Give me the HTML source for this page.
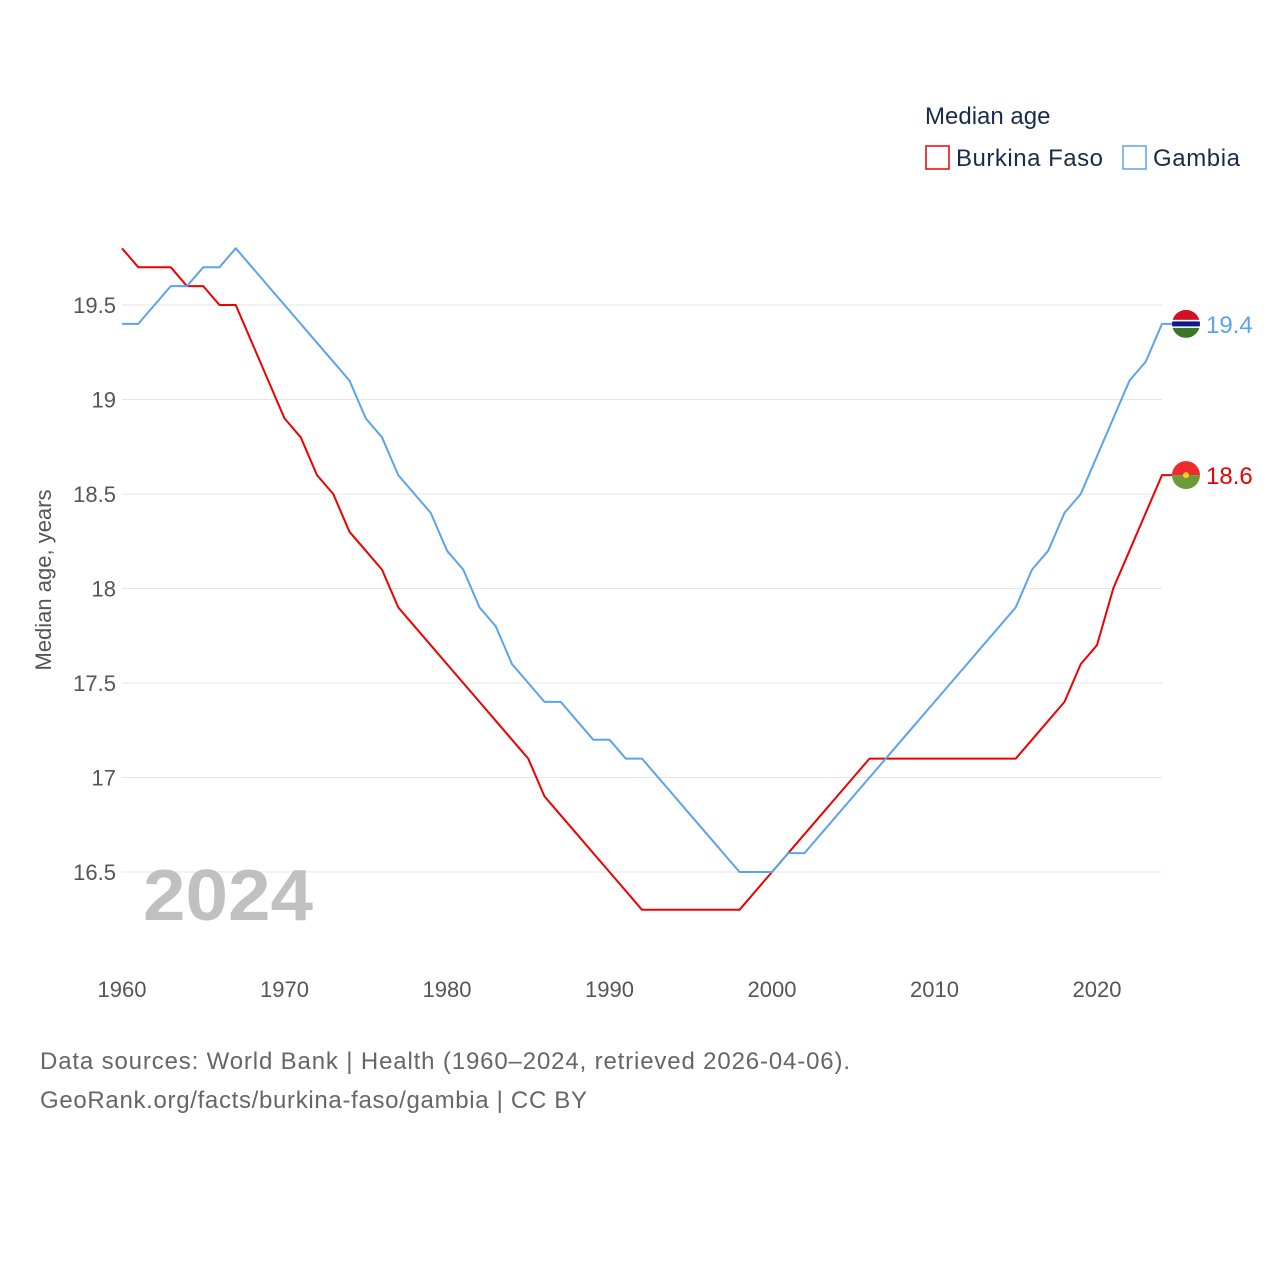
<!DOCTYPE html>
<html><head><meta charset="utf-8"><style>
body{margin:0;background:#fff;font-family:"Liberation Sans",sans-serif;}
svg text{font-family:"Liberation Sans",sans-serif;}
</style></head><body>
<svg id="c" width="1280" height="1280">
<rect width="1280" height="1280" fill="#fff"/>
<g id="grid"></g>
<text x="143" y="920" font-size="72" font-weight="bold" fill="#c0c0c0" textLength="170" lengthAdjust="spacingAndGlyphs">2024</text>
<g id="lines"></g>
<text transform="translate(51,580) rotate(-90)" font-size="22" fill="#555" text-anchor="middle">Median age, years</text>
<text x="925" y="124" font-size="24" fill="#1a2b4a">Median age</text>
<g><rect x="926" y="146" width="23" height="23" fill="none" stroke="#ee0000" stroke-width="1.5"/><text x="956" y="166" font-size="24" fill="#1a2b4a" textLength="147">Burkina Faso</text></g>
<g><rect x="1123" y="146" width="23" height="23" fill="none" stroke="#5ba3ee" stroke-width="1.5"/><text x="1153" y="166" font-size="24" fill="#1a2b4a" textLength="87">Gambia</text></g>
<text x="40" y="1069" font-size="24" fill="#666" textLength="810">Data sources: World Bank | Health (1960–2024, retrieved 2026-04-06).</text>
<text x="40" y="1108" font-size="24" fill="#666" textLength="547">GeoRank.org/facts/burkina-faso/gambia | CC BY</text>
</svg>
<script>
const years=[];for(let y=1960;y<=2024;y++)years.push(y);
const burkina=[19.8,19.7,19.7,19.7,19.6,19.6,19.5,19.5,19.3,19.1,18.9,18.8,18.6,18.5,18.3,18.2,18.1,17.9,17.8,17.7,17.6,17.5,17.4,17.3,17.2,17.1,16.9,16.8,16.7,16.6,16.5,16.4,16.3,16.3,16.3,16.3,16.3,16.3,16.3,16.4,16.5,16.6,16.7,16.8,16.9,17.0,17.1,17.1,17.1,17.1,17.1,17.1,17.1,17.1,17.1,17.1,17.2,17.3,17.4,17.6,17.7,18.0,18.2,18.4,18.6];
const gambia=[19.4,19.4,19.5,19.6,19.6,19.7,19.7,19.8,19.7,19.6,19.5,19.4,19.3,19.2,19.1,18.9,18.8,18.6,18.5,18.4,18.2,18.1,17.9,17.8,17.6,17.5,17.4,17.4,17.3,17.2,17.2,17.1,17.1,17.0,16.9,16.8,16.7,16.6,16.5,16.5,16.5,16.6,16.6,16.7,16.8,16.9,17.0,17.1,17.2,17.3,17.4,17.5,17.6,17.7,17.8,17.9,18.1,18.2,18.4,18.5,18.7,18.9,19.1,19.2,19.4];
const yTicks=[16.5,17,17.5,18,18.5,19,19.5];
const yTickLabels=["16.5","17","17.5","18","18.5","19","19.5"];
const xTicks=[1960,1970,1980,1990,2000,2010,2020];
const NS="http://www.w3.org/2000/svg";
const X=y=>122+(y-1960)*16.25;
const Y=v=>305+(19.5-v)*189;
function mk(tag,attrs,parent){const e=document.createElementNS(NS,tag);for(const k in attrs)e.setAttribute(k,attrs[k]);parent.appendChild(e);return e;}
const grid=document.getElementById('grid');const lines=document.getElementById('lines');
yTicks.forEach((t,i)=>{
 const l=mk('line',{x1:122,x2:1162,y1:Y(t),y2:Y(t),stroke:'#e6e6e6','stroke-width':1},grid);
 
 
 const tx=mk('text',{x:116,y:Y(t)+8,'font-size':22,fill:'#555','text-anchor':'end'},grid);tx.textContent=yTickLabels[i];
 
 
});
xTicks.forEach(t=>{
 const tx=mk('text',{x:X(t),y:997,'font-size':22,fill:'#555','text-anchor':'middle'},grid);tx.textContent=t;
 
 
});
function series(vals,color,name){
 let d=vals.map((v,i)=>(i?'L':'M')+X(years[i])+','+Y(v)).join('');
 d+='L'+(X(2024)+10)+','+Y(vals[vals.length-1]);
 const p=mk('path',{d:d,fill:'none',stroke:color,'stroke-width':2,'stroke-linejoin':'round'},lines);
 
 
}
series(burkina,'#ee0000','burkina-faso');
series(gambia,'#5ba3ee','gambia');
const cx=1186;
const gy=Y(gambia[gambia.length-1]);
const gf=mk('g',{},lines);


const cp=mk('clipPath',{id:'cg'},gf);
mk('circle',{cx:cx,cy:gy,r:14},cp);
const gg=mk('g',{'clip-path':'url(#cg)'},gf);
mk('rect',{x:cx-14,y:gy-14,width:28,height:10,fill:'#ce1126'},gg);
mk('rect',{x:cx-14,y:gy-4,width:28,height:8,fill:'#fff'},gg);
mk('rect',{x:cx-14,y:gy-2.5,width:28,height:5,fill:'#0c1c8c'},gg);
mk('rect',{x:cx-14,y:gy+4,width:28,height:10,fill:'#3a7728'},gg);
const gl=mk('text',{x:1206,y:gy+9,'font-size':24,fill:'#5ba3ee'},lines);gl.textContent=gambia[gambia.length-1].toFixed(1);


const by=Y(burkina[burkina.length-1]);
const bf=mk('g',{},lines);


mk('path',{d:`M${cx-14},${by} A14,14 0 0 1 ${cx+14},${by} Z`,fill:'#ef2b2d'},bf);
mk('path',{d:`M${cx-14},${by} A14,14 0 0 0 ${cx+14},${by} Z`,fill:'#6a9a3a'},bf);
mk('circle',{cx:cx,cy:by,r:3,fill:'#fcd116'},bf);
const bl=mk('text',{x:1206,y:by+9,'font-size':24,fill:'#ee0000'},lines);bl.textContent=burkina[burkina.length-1].toFixed(1);


</script>
</body></html>
